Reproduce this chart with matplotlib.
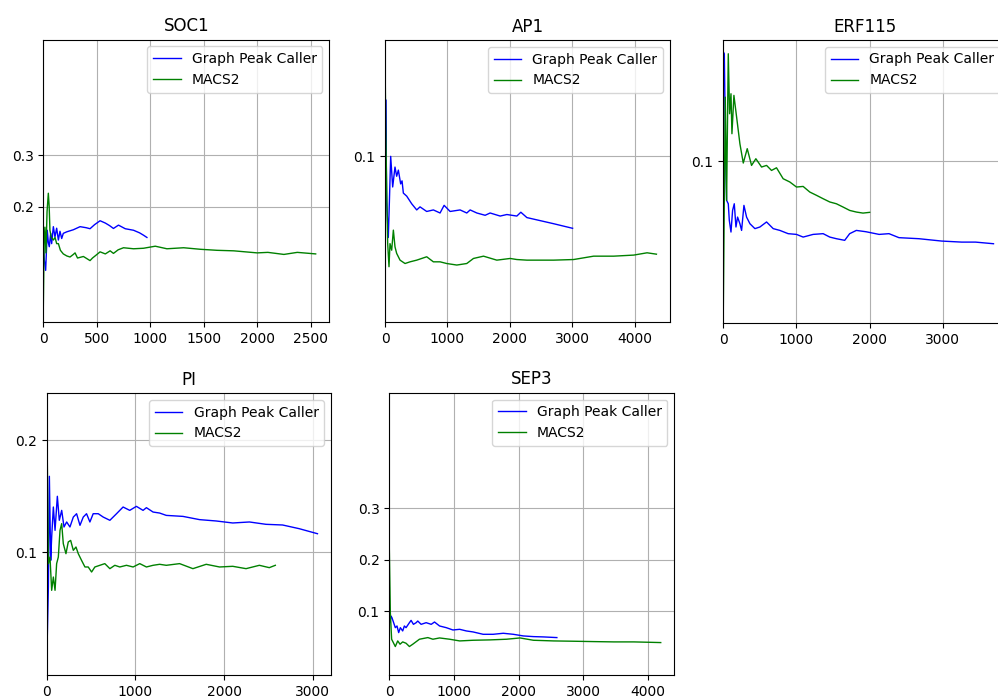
import matplotlib
matplotlib.use('Agg')
import matplotlib.pyplot as plt

# x = number of peaks, y = running score
soc1_gpc_x = [0, 10, 22, 37, 47, 56, 69, 78, 94, 109, 125, 141, 156, 172, 187, 220, 281, 344, 400, 437,
              480, 531, 580, 620, 656, 703, 766, 844, 900, 937, 969]
soc1_gpc_y = [0.125, 0.095, 0.076, 0.154, 0.13, 0.122, 0.148, 0.128, 0.161, 0.141, 0.158, 0.135, 0.152, 0.138,
              0.148, 0.151, 0.155, 0.161, 0.159, 0.157, 0.165, 0.1725, 0.168, 0.163, 0.1575, 0.164, 0.157, 0.154,
              0.149, 0.1444, 0.14]
soc1_macs_x = [0, 8, 15, 25, 35, 47, 55, 62, 75, 94, 110, 125, 141, 160, 187, 220, 250, 281, 297, 320, 375,
               437, 460, 484, 531, 580, 625, 656, 700, 750, 844, 937, 1047, 1156, 1312, 1469, 1625, 1781, 2000,
               2100, 2250, 2375, 2547]
soc1_macs_y = [0.004, 0.13, 0.16, 0.11, 0.19, 0.226, 0.2, 0.154, 0.14, 0.135, 0.14, 0.128, 0.128, 0.115, 0.108,
               0.104, 0.102, 0.107, 0.11, 0.1, 0.103, 0.095, 0.1, 0.104, 0.112, 0.108, 0.114, 0.109, 0.116, 0.12,
               0.118, 0.119, 0.123, 0.118, 0.12, 0.117, 0.115, 0.114, 0.11, 0.111, 0.107, 0.111, 0.108]

ap1_gpc_x = [0, 11, 27, 53, 70, 91, 123, 160, 187, 214, 251, 273, 294, 348, 428, 508, 561, 668, 775, 882, 947,
             1043, 1203, 1310, 1364, 1471, 1604, 1684, 1845, 1952, 2112, 2176, 2273, 2487, 2701, 3005]
ap1_gpc_y = [0.0, 0.137, 0.07, 0.047, 0.07, 0.1, 0.08, 0.093, 0.087, 0.091, 0.082, 0.084, 0.076, 0.074, 0.069,
             0.065, 0.067, 0.064, 0.065, 0.063, 0.068, 0.064, 0.065, 0.063, 0.065, 0.063, 0.0615, 0.063, 0.061,
             0.062, 0.061, 0.0635, 0.06, 0.058, 0.056, 0.053]
ap1_macs_x = [0, 11, 27, 43, 64, 80, 107, 134, 160, 187, 241, 321, 401, 508, 668, 775, 882, 989, 1150, 1310,
              1417, 1578, 1791, 2005, 2112, 2273, 2487, 2701, 3021, 3342, 3663, 3984, 4198, 4348]
ap1_macs_y = [0.167, 0.12, 0.0778, 0.043, 0.0279, 0.043, 0.0387, 0.0518, 0.0409, 0.0366, 0.0322, 0.030, 0.0311,
              0.0322, 0.0344, 0.0311, 0.0311, 0.030, 0.029, 0.030, 0.0333, 0.0348, 0.0322, 0.0333, 0.0326,
              0.0322, 0.0322, 0.0322, 0.0326, 0.0348, 0.0348, 0.0355, 0.037, 0.0361]

erf115_gpc_x = [0, 14, 27, 45, 68, 82, 105, 127, 150, 173, 195, 227, 250, 282, 318, 364, 432, 500, 591, 682, 773,
                886, 1000, 1091, 1227, 1364, 1455, 1545, 1659, 1727, 1818, 1950, 2129, 2264, 2400, 2672, 2985,
                3257, 3447, 3692]
erf115_gpc_y = [0.174, 0.1727, 0.1209, 0.0737, 0.0714, 0.0602, 0.0523, 0.0669, 0.0714, 0.0557, 0.0624, 0.0579,
                0.0534, 0.0703, 0.0624, 0.0579, 0.0546, 0.0557, 0.0591, 0.0546, 0.0534, 0.0512, 0.0507, 0.0489,
                0.0507, 0.0512, 0.0489, 0.0478, 0.0467, 0.0512, 0.0534, 0.0525, 0.0507, 0.0512, 0.0485, 0.0478,
                0.0462, 0.0455, 0.0455, 0.0444]
erf115_macs_x = [0, 14, 27, 45, 68, 86, 105, 118, 145, 182, 227, 273, 327, 386, 445, 523, 591, 659, 727, 818,
                 909, 1000, 1091, 1182, 1273, 1364, 1455, 1545, 1636, 1727, 1818, 1909, 2000]
erf115_macs_y = [0.0, 0.0759, 0.1434, 0.0737, 0.1727, 0.1322, 0.1457, 0.1187, 0.1446, 0.1299, 0.1119, 0.0989,
                 0.1086, 0.0973, 0.1018, 0.0962, 0.0973, 0.0939, 0.0957, 0.0883, 0.0861, 0.0827, 0.0831, 0.0793,
                 0.0771, 0.0748, 0.0726, 0.0714, 0.0692, 0.0669, 0.0658, 0.0651, 0.0656]

pi_gpc_x = [0, 19, 30, 45, 56, 75, 94, 120, 142, 169, 195, 225, 262, 300, 337, 375, 412, 449, 487, 524, 581, 637,
            712, 787, 861, 936, 1011, 1086, 1124, 1199, 1273, 1348, 1536, 1723, 1910, 2097, 2285, 2472, 2659,
            2846, 3052]
pi_gpc_y = [0.0, 0.0687, 0.1678, 0.0925, 0.1134, 0.1403, 0.1194, 0.1499, 0.1284, 0.1373, 0.1224, 0.1269, 0.1224,
            0.1313, 0.1343, 0.1239, 0.1313, 0.1343, 0.1269, 0.1343, 0.1343, 0.1313, 0.1284, 0.1343, 0.1403,
            0.1373, 0.1409, 0.1373, 0.1397, 0.1358, 0.1349, 0.1328, 0.1319, 0.129, 0.1278, 0.126, 0.1269,
            0.1248, 0.1242, 0.1209, 0.1164]
pi_macs_x = [0, 19, 37, 56, 75, 94, 112, 131, 150, 169, 187, 217, 243, 270, 300, 330, 356, 393, 431, 468, 506,
             543, 599, 655, 712, 768, 824, 899, 974, 1049, 1124, 1199, 1273, 1348, 1498, 1648, 1798, 1948, 2097,
             2247, 2397, 2509, 2577]
pi_macs_y = [0.231, 0.0896, 0.0955, 0.0657, 0.0776, 0.0657, 0.0896, 0.0955, 0.1194, 0.1254, 0.1075, 0.0985,
             0.109, 0.1104, 0.1015, 0.1045, 0.0985, 0.0925, 0.0866, 0.0866, 0.0821, 0.0866, 0.0881, 0.0896,
             0.0851, 0.0881, 0.0866, 0.0881, 0.0866, 0.0896, 0.0866, 0.0881, 0.089, 0.0881, 0.0896, 0.0851,
             0.089, 0.0866, 0.0872, 0.0851, 0.0881, 0.086, 0.0881]

sep3_gpc_x = [0, 10, 26, 41, 67, 93, 119, 145, 171, 207, 233, 259, 311, 337, 373, 415, 440, 492, 570, 648, 699,
              777, 881, 984, 1088, 1192, 1295, 1451, 1606, 1762, 1917, 2073, 2228, 2383, 2591]
sep3_gpc_y = [0.1, 0.0774, 0.0903, 0.0871, 0.0774, 0.0677, 0.071, 0.0581, 0.0677, 0.0613, 0.071, 0.0677, 0.0774,
              0.0819, 0.0742, 0.0774, 0.0806, 0.0742, 0.0774, 0.0742, 0.0787, 0.071, 0.0677, 0.0632, 0.0645,
              0.0613, 0.0594, 0.0548, 0.0548, 0.0568, 0.0548, 0.0516, 0.0503, 0.0497, 0.0484]
sep3_macs_x = [0, 16, 36, 62, 93, 130, 166, 207, 259, 311, 363, 466, 596, 674, 777, 933, 1088, 1295, 1554, 1813,
               2021, 2228, 2539, 2850, 3161, 3472, 3782, 4197]
sep3_macs_y = [0.2226, 0.0968, 0.0452, 0.0387, 0.031, 0.0419, 0.0355, 0.04, 0.0374, 0.031, 0.0355, 0.0452,
               0.0484, 0.0452, 0.0477, 0.0452, 0.0419, 0.0432, 0.0439, 0.0452, 0.0477, 0.0432, 0.0419, 0.0413,
               0.0406, 0.04, 0.04, 0.0387]

panels = [
    ('SOC1', soc1_gpc_x, soc1_gpc_y, soc1_macs_x, soc1_macs_y),
    ('AP1', ap1_gpc_x, ap1_gpc_y, ap1_macs_x, ap1_macs_y),
    ('ERF115', erf115_gpc_x, erf115_gpc_y, erf115_macs_x, erf115_macs_y),
    ('PI', pi_gpc_x, pi_gpc_y, pi_macs_x, pi_macs_y),
    ('SEP3', sep3_gpc_x, sep3_gpc_y, sep3_macs_x, sep3_macs_y),
]

# pixel boxes (left, top, right, bottom) of each axes, y limits and y ticks
boxes = [(43.3, 39.5, 329.3, 322.3), (385, 40, 670, 322.3), (723.3, 40, 1007, 322.8),
         (46.7, 393, 331, 675.3), (389.3, 392.7, 674.3, 675.3)]
ylims = [(-0.025, 0.525), (-0.0084, 0.176), (-0.009, 0.182), (-0.0104, 0.2424), (-0.025, 0.525)]
yticks = [[0.2, 0.3], [0.1], [0.1], [0.1, 0.2], [0.1, 0.2, 0.3]]

W, H = 998, 698
fig = plt.figure(figsize=(W / 100, H / 100), dpi=100)

for (name, gx, gy, mx, my), (l, t, r, b), yl, yt in zip(panels, boxes, ylims, yticks):
    ax = fig.add_axes([l / W, 1 - b / H, (r - l) / W, (b - t) / H])
    ax.plot(gx, gy, color='b', lw=1.0, label='Graph Peak Caller')
    ax.plot(mx, my, color='g', lw=1.0, label='MACS2')
    ax.set_xlim(0, max(max(gx), max(mx)) * 1.05)
    ax.set_ylim(*yl)
    ax.set_yticks(yt)
    ax.set_yticklabels([str(v) for v in yt])
    ax.grid(True)
    ax.set_title(name)
    ax.legend(loc='upper right')

fig.savefig('out.png', dpi=100)
